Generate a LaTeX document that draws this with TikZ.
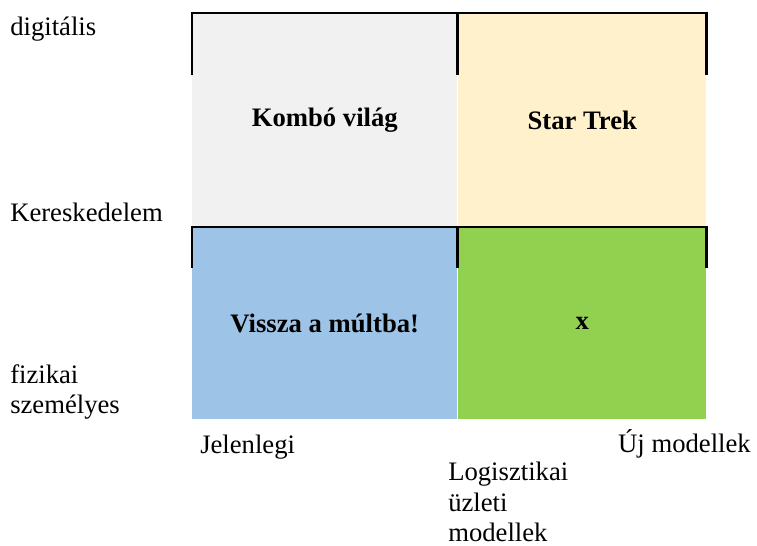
\documentclass[tikz,border=0pt]{standalone}
\usepackage{fontspec}
\setmainfont{Liberation Serif}
\definecolor{kombocol}{HTML}{F1F1F1}
\definecolor{trekcol}{HTML}{FFF1CC}
\definecolor{multcol}{HTML}{9DC3E6}
\definecolor{xcol}{HTML}{92D050}
\begin{document}
\begin{tikzpicture}[x=0.75pt,y=-0.75pt,
    font=\fontsize{20}{23.5}\selectfont,
    cell/.style={anchor=north west,inner sep=0pt,font=\fontsize{20}{23.5}\selectfont\bfseries},
    lbl/.style={anchor=base west,inner sep=0pt},
    border/.style={line width=1.6pt}]
  \useasboundingbox (0,0) rectangle (757,546);
  % the four fields
  \node[cell,fill=kombocol,minimum width=198.75pt,minimum height=160.5pt] (kombo) at (192,13) {Kombó világ};
  \node[cell,fill=trekcol,minimum width=186pt,minimum height=160.5pt] (trek) at (458,13) {Star Trek};
  \node[cell,fill=multcol,minimum width=198.75pt,minimum height=144pt] (mult) at (192,227) {Vissza a múltba!};
  \node[cell,fill=xcol,minimum width=186pt,minimum height=144pt] (ujx) at (458,227) {x};
  % black brackets on top of each row
  \draw[border] (kombo.north west) ++(0,62) -- (kombo.north west) -- (trek.north east) -- ++(0,62);
  \draw[border] (kombo.north east) -- ++(0,62);
  \draw[border] (mult.north west) ++(0,41) -- (mult.north west) -- (ujx.north east) -- ++(0,41);
  \draw[border] (mult.north east) -- ++(0,41);
  % axis texts
  \node[lbl] (digit) at (10,36) {digitális};
  \node[lbl] (keres) at (10,221) {Kereskedelem};
  \node[lbl] (fiz) at (10,383) {fizikai};
  \node[lbl] (szem) at (10,413) {személyes};
  \node[lbl] (jelen) at (200,453) {Jelenlegi};
  \node[anchor=base east,inner sep=0pt] (uj) at (751,452) {Új modellek};
  \node[lbl] (logi) at (448,480) {Logisztikai};
  \node[lbl] (uzlet) at (448,511) {üzleti};
  \node[lbl] (model) at (448,541) {modellek};
\end{tikzpicture}
\end{document}
